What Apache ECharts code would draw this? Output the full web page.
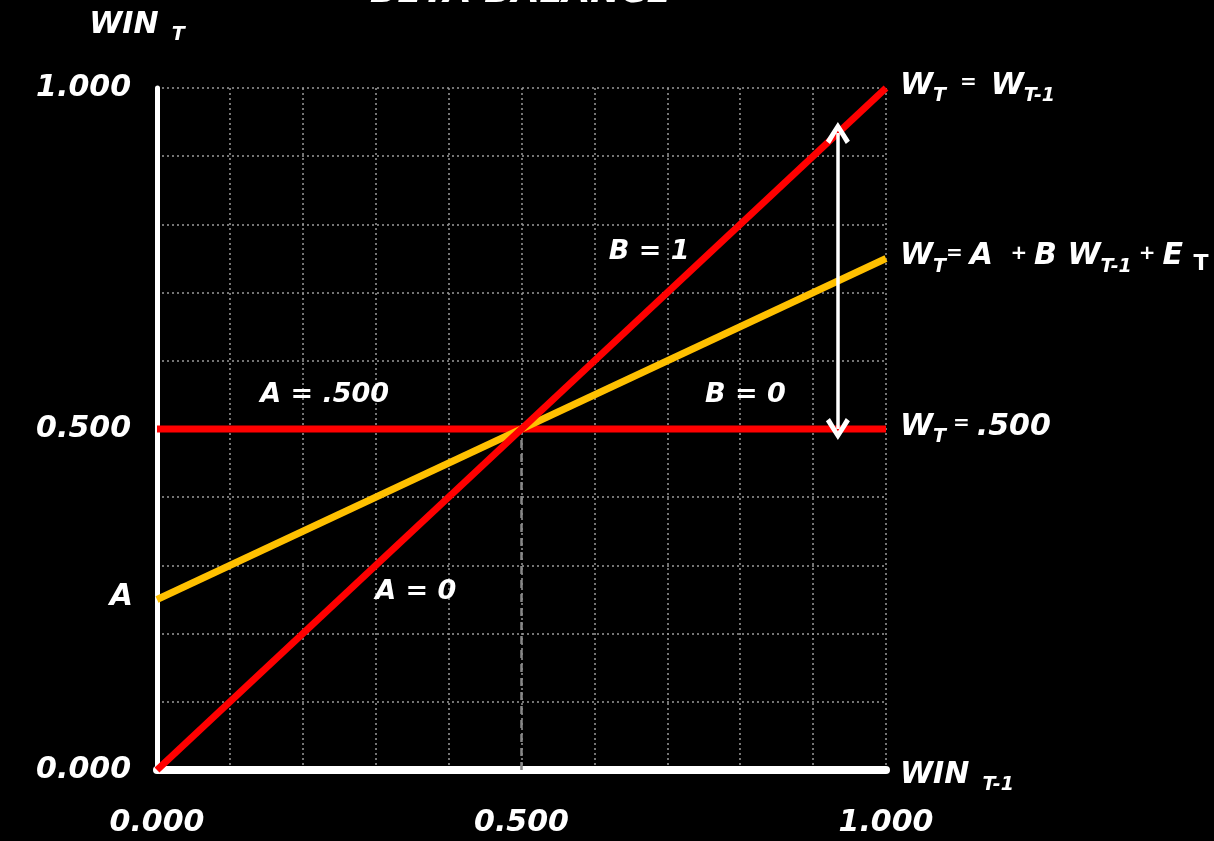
<!DOCTYPE html>
<html>
<head>
<meta charset="utf-8">
<script src="https://cdn.jsdelivr.net/npm/echarts@6/dist/echarts.min.js"></script>
<style>
  html, body { margin: 0; padding: 0; background: #000; }
  #chart { width: 1214px; height: 841px; }
</style>
</head>
<body>
<div id="chart"></div>
<script>
// line endpoints, x = win(t-1)
const lineX = [0, 1];
const diagY = [0, 1];      // W_t = W_t-1
const flatY = [0.5, 0.5];  // W_t = .500
const fitY = [0.25, 0.75]; // W_t = A + B W_t-1 + E_t

const tickValues = [0, 0.5, 1];

// double arrow between diagonal and flat line
const arrowX = 0.934;
const arrowY = [0.934, 0.5];

// annotations inside the plot
const noteText = ['B = 1', 'A = .500', 'B = 0', 'A = 0'];
const noteX = [0.675, 0.23, 0.807, 0.355];
const noteY = [0.76, 0.55, 0.55, 0.261];

const FONT = 'DejaVu Sans';
const chart = echarts.init(document.getElementById('chart'));

const rich = {
  m: { color: '#fff', fontFamily: FONT, fontStyle: 'italic', fontWeight: 'bold', fontSize: 30, lineHeight: 34, verticalAlign: 'top' },
  s: { color: '#fff', fontFamily: FONT, fontStyle: 'italic', fontWeight: 'bold', fontSize: 19, lineHeight: 20, padding: [16, 0, 0, 0], verticalAlign: 'top' },
  t: { color: '#fff', fontFamily: FONT, fontWeight: 'bold', fontSize: 22, lineHeight: 22, padding: [12, 0, 0, 0], verticalAlign: 'top' },
  e: { color: '#fff', fontFamily: FONT, fontWeight: 'bold', fontSize: 20, lineHeight: 20, padding: [2, 0, 0, 0], verticalAlign: 'top' },
};

const toPts = (ys) => lineX.map((x, i) => [x, ys[i]]);
const chevron = 'path://M5,0 L10,8.5 L8.3,10 L5,4 L1.7,10 L0,8.5 Z';

const option = {
  backgroundColor: '#000',
  animation: false,
  grid: { left: 157, right: 328, top: 88, bottom: 71 },
  graphic: [
    {
      type: 'text', left: 370, top: -25,
      style: { text: 'BETA BALANCE', fill: '#fff', font: 'italic bold 36px "DejaVu Sans"' },
    },
  ],
  xAxis: {
    type: 'value', min: 0, max: 1, interval: 0.1,
    name: '{m|WIN}{s|  T-1}', nameLocation: 'end', nameGap: 14,
    nameTextStyle: { rich, padding: [14, 0, 0, 0] },
    axisLine: { lineStyle: { color: '#fff', width: 8 } },
    axisTick: { show: false },
    splitLine: { show: true, lineStyle: { color: '#9a9a9a', type: [2, 3], width: 1.5 } },
    axisLabel: {
      margin: 38, color: '#fff', fontFamily: FONT, fontStyle: 'italic', fontWeight: 'bold', fontSize: 30,
      formatter: (v) => (tickValues.some((t) => Math.abs(t - v) < 1e-6) ? v.toFixed(3) : ''),
    },
  },
  yAxis: {
    type: 'value', min: 0, max: 1, interval: 0.1,
    name: '{m|WIN}{s|  T}', nameLocation: 'end', nameGap: 44,
    nameTextStyle: { rich, padding: [0, 40, 0, 0] },
    axisLine: { show: true, lineStyle: { color: '#fff', width: 5 } },
    axisTick: { show: false },
    splitLine: { show: true, lineStyle: { color: '#9a9a9a', type: [2, 3], width: 1.5 } },
    axisLabel: {
      margin: 26, color: '#fff', fontFamily: FONT, fontStyle: 'italic', fontWeight: 'bold', fontSize: 30,
      formatter: (v) => (tickValues.some((t) => Math.abs(t - v) < 1e-6) ? v.toFixed(3) : ''),
    },
  },
  series: [
    {
      name: 'flat', type: 'line', data: toPts(flatY), symbol: 'none', z: 3,
      lineStyle: { color: '#ff0000', width: 7 },
      endLabel: { show: true, distance: 14, formatter: '{m|W}{s|T}{e| = }{m|.500}', rich },
      markLine: {
        silent: true, symbol: 'none', label: { show: false },
        lineStyle: { color: '#888', type: [8, 6], width: 2.5 },
        data: [[{ coord: [0.5, 0] }, { coord: [0.5, 0.5] }]],
      },
    },
    {
      name: 'fit', type: 'line', symbol: 'circle', symbolSize: 0, showSymbol: true, z: 4,
      itemStyle: { color: '#ffc000' },
      data: toPts(fitY).map((p, i) => (i === 0
        ? { value: p, label: { show: true, position: 'left', distance: 24, formatter: '{m|A}', rich } }
        : p)),
      lineStyle: { color: '#ffc000', width: 7 },
      endLabel: { show: true, distance: 14, formatter: '{m|W}{s|T}{e|= }{m|A }{e| + }{m|B W}{s|T-1}{e| + }{m|E }{t|T}', rich },
    },
    {
      name: 'diag', type: 'line', data: toPts(diagY), symbol: 'none', z: 5,
      lineStyle: { color: '#ff0000', width: 7 },
      endLabel: { show: true, distance: 14, formatter: '{m|W}{s|T}{e|  =  }{m|W}{s|T-1}', rich },
    },
    {
      name: 'notes', type: 'scatter', symbolSize: 0, z: 8,
      itemStyle: { opacity: 1 },
      data: noteText.map((t, i) => [noteX[i], noteY[i], t]),
      label: {
        show: true, position: 'inside', color: '#fff', opacity: 1,
        fontFamily: FONT, fontStyle: 'italic', fontWeight: 'bold', fontSize: 27,
        formatter: (p) => p.value[2],
      },
      markLine: {
        silent: true, z: 10, label: { show: false },
        symbol: [chevron, chevron],
        symbolSize: [24, 22],
        itemStyle: { color: '#fff' },
        lineStyle: { color: '#fff', type: 'solid', width: 3.5, opacity: 1 },
        data: [[{ coord: [arrowX, arrowY[0]] }, { coord: [arrowX, arrowY[1]] }]],
      },
    },
  ],
};

chart.setOption(option);
</script>
</body>
</html>
